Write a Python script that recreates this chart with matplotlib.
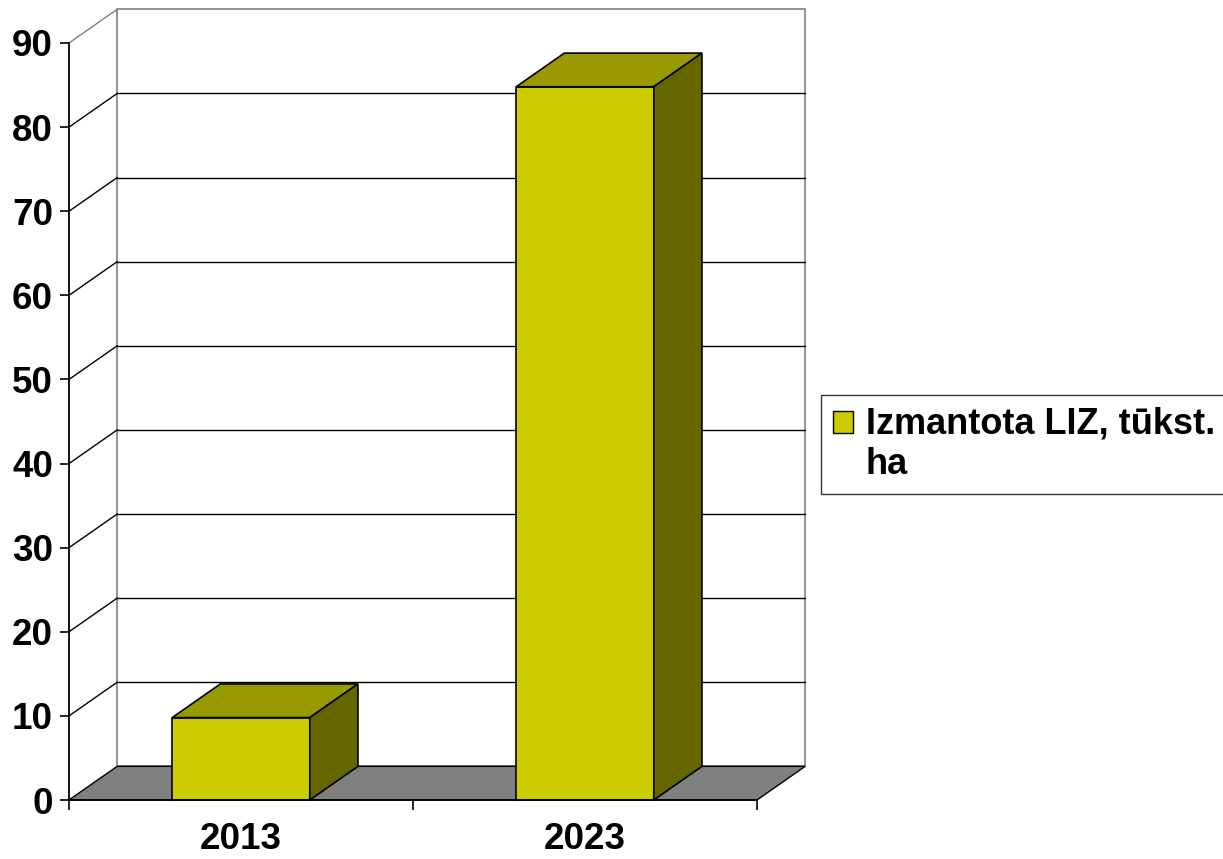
import numpy as np
import matplotlib.pyplot as plt
from matplotlib.patches import Polygon, Patch, Rectangle
from matplotlib.legend_handler import HandlerPatch

# Data
years = ['2013', '2023']
values = [9.8, 84.8]
series_name = 'Izmantota LIZ, tūkst.\nha'
y_ticks = list(range(0, 100, 10))

# Look
front_col = '#CCCC00'
top_col = '#999900'
side_col = '#666600'
floor_col = '#808080'
wall_edge = '#808080'
dx, dy = 0.14, 4.0   # depth offset in data units
bar_w = 0.4
ymax = 90

plt.rcParams['font.family'] = ['Liberation Sans', 'DejaVu Sans']
plt.rcParams['font.weight'] = 'bold'

fig = plt.figure(figsize=(12.23, 8.59), dpi=100)
ax = fig.add_axes([69 / 1223, 59 / 859, 688 / 1223, 757 / 859])
n = len(years)
ax.set_xlim(0, n)
ax.set_ylim(0, ymax)

# back wall
ax.add_patch(Polygon([(dx, dy), (n + dx, dy), (n + dx, ymax + dy), (dx, ymax + dy)],
                     closed=True, facecolor='white', edgecolor=wall_edge, lw=1.2,
                     clip_on=False, zorder=1))
# floor
ax.add_patch(Polygon([(0, 0), (n, 0), (n + dx, dy), (dx, dy)], closed=True,
                     facecolor=floor_col, edgecolor='black', lw=1.0,
                     clip_on=False, zorder=2))

# gridlines on back wall and left side wall
for t in y_ticks[1:]:
    c = wall_edge if t == ymax else 'black'
    if t != ymax:
        ax.plot([dx, n + dx], [t + dy, t + dy], color=c, lw=1.0, clip_on=False, zorder=2)
    ax.plot([0, dx], [t, t + dy], color=c, lw=1.0, clip_on=False, zorder=2)

# bars
for i, v in enumerate(values):
    x0 = i + 0.5 - bar_w / 2
    x1 = x0 + bar_w
    ax.add_patch(Polygon([(x0, 0), (x1, 0), (x1, v), (x0, v)], closed=True,
                         facecolor=front_col, edgecolor='black', lw=1.2, zorder=4, clip_on=False))
    ax.add_patch(Polygon([(x0, v), (x1, v), (x1 + dx, v + dy), (x0 + dx, v + dy)], closed=True,
                         facecolor=top_col, edgecolor='black', lw=1.2, zorder=4, clip_on=False))
    ax.add_patch(Polygon([(x1, 0), (x1 + dx, dy), (x1 + dx, v + dy), (x1, v)], closed=True,
                         facecolor=side_col, edgecolor='black', lw=1.2, zorder=4, clip_on=False))

# axes lines / ticks
for s in ['top', 'right']:
    ax.spines[s].set_visible(False)
for s in ['left', 'bottom']:
    ax.spines[s].set_color('black')
    ax.spines[s].set_linewidth(1.3)
    ax.spines[s].set_zorder(5)
ax.set_facecolor('none')

ax.set_yticks(y_ticks)
ax.tick_params(axis='y', direction='out', length=6.5, width=1.2, pad=5, labelsize=26.5)
ax.set_xticks(range(n + 1))
ax.set_xticklabels([])
ax.set_xticks([i + 0.5 for i in range(n)], minor=True)
ax.set_xticklabels(years, minor=True)
ax.tick_params(axis='x', which='major', direction='out', length=7, width=1.2)
ax.tick_params(axis='x', which='minor', length=0, pad=16, labelsize=26.5)


# legend: put the square next to the first text line
def top_square(legend, orig_handle, xdescent, ydescent, width, height, fontsize):
    return Rectangle((-xdescent, -ydescent + 17), width, height)


handle = Patch(facecolor=front_col, edgecolor='black', lw=1.0)
leg = fig.legend([handle], [series_name], loc='upper left',
                 bbox_to_anchor=(821 / 1223, 1 - 395 / 859), bbox_transform=fig.transFigure,
                 fontsize=26, frameon=True, fancybox=False, shadow=False,
                 borderpad=0.33, handlelength=0.55, handleheight=0.55, handletextpad=0.36,
                 borderaxespad=0,
                 handler_map={Patch: HandlerPatch(patch_func=top_square)})
leg.get_frame().set_edgecolor('black')
leg.get_frame().set_linewidth(1.0)
for txt in leg.get_texts():
    txt.set_linespacing(1.2)

fig.savefig('out.png', dpi=100)
